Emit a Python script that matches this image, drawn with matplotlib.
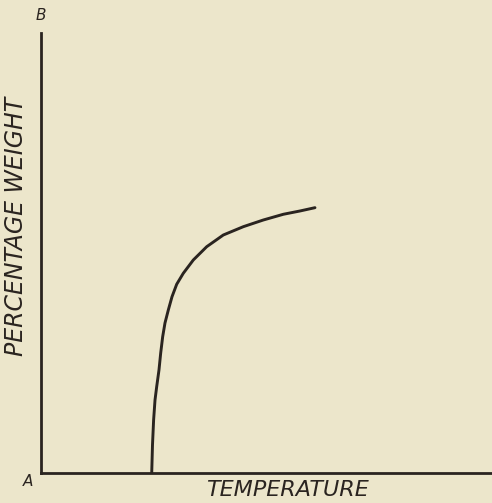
import matplotlib
matplotlib.use("Agg")
import matplotlib.pyplot as plt

# Curve: temperature (% of axis span) vs percentage weight
temperature = [24.55, 24.72, 24.97, 25.28, 25.65, 26.16, 26.54, 26.98, 27.49, 28.23,
               29.05, 30.09, 31.55, 33.77, 36.74, 40.42, 44.86, 49.29, 53.73, 57.43, 60.75]
weight = [0.0, 6.36, 12.05, 16.59, 19.61, 23.41, 27.27, 30.98, 34.09, 37.05,
          40.07, 42.90, 45.39, 48.41, 51.43, 54.09, 55.98, 57.50, 58.80, 59.55, 60.30]

x_label = "TEMPERATURE"
y_label = "PERCENTAGE WEIGHT"

bg = "#ECE6CB"
ink = "#2a2420"

W, H = 492, 503
fig = plt.figure(figsize=(W / 100, H / 100), dpi=100, facecolor=bg)
ax = fig.add_axes([41 / W, 30 / H, (W - 41) / W, 440 / H], facecolor=bg)

ax.plot(temperature, weight, color=ink, lw=2.1, solid_capstyle="round",
        solid_joinstyle="round")

ax.set_xlim(0, 100)
ax.set_ylim(0, 100)
for s in ("top", "right"):
    ax.spines[s].set_visible(False)
for s in ("left", "bottom"):
    ax.spines[s].set_color(ink)
    ax.spines[s].set_linewidth(2.0)
ax.set_xticks([])
ax.set_yticks([])

font = dict(family="DejaVu Sans", style="italic", color=ink)
fig.text(287 / W, 1 - 490 / H, x_label, ha="center", va="center", fontsize=16, **font)
fig.text(16 / W, 1 - 226 / H, y_label, ha="center", va="center", rotation=90, fontsize=17, **font)
fig.text(28 / W, 1 - 482 / H, "A", ha="center", va="center", fontsize=11, **font)
fig.text(41 / W, 1 - 15 / H, "B", ha="center", va="center", fontsize=11, **font)

fig.savefig("out.png", dpi=100, facecolor=bg)
